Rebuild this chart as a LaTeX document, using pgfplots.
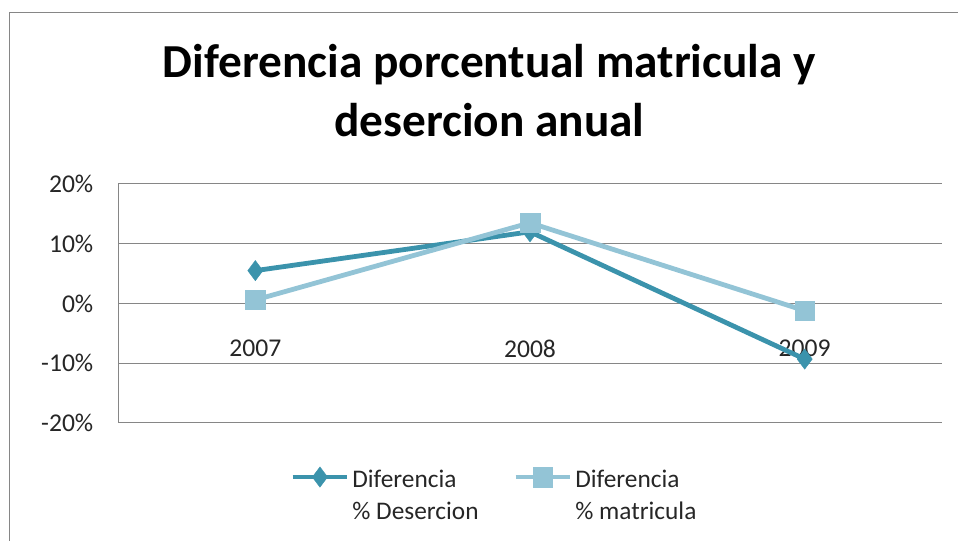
\documentclass[border=0pt]{standalone}
\usepackage{pgfplots}
\pgfplotsset{compat=1.18}
\usepackage{fontspec}
\setmainfont{Carlito}
\definecolor{desc}{HTML}{3B93AC}
\definecolor{matr}{HTML}{93C4D6}
\definecolor{gridc}{HTML}{868686}
\begin{document}
\begin{tikzpicture}
\useasboundingbox (0pt,0pt) rectangle (718.5pt,405.75pt);
\draw[gridc, line width=1.1pt] (7.1pt,-2pt) -- (7.1pt,396.4pt) -- (720pt,396.4pt);
\node[anchor=base, font=\bfseries\fontsize{35.5}{40}\selectfont, inner sep=0] at (367pt,347.25pt) {Diferencia porcentual matricula y};
\node[anchor=base, font=\bfseries\fontsize{35.5}{40}\selectfont, inner sep=0] at (367pt,303pt) {desercion anual};
\begin{axis}[
  at={(88.5pt,88.5pt)}, anchor=south west,
  scale only axis, width=618pt, height=179.25pt,
  xmin=-0.5, xmax=2.5, ymin=-20, ymax=20,
  xtick={0,1,2}, xticklabels={2007,2008,2009},
  ytick={-20,-10,0,10,20},
  yticklabels={-20\%,-10\%,0\%,10\%,20\%},
  ymajorgrids, grid style={gridc, line width=0.75pt},
  axis lines*=left,
  axis line style={gridc, line width=0.75pt, -},
  major tick length=0pt,
  tick label style={font=\fontsize{19.2}{22}\selectfont, text=black!85},
  yticklabel style={xshift=-15pt},
  xticklabel style={yshift=65.5pt},
  clip=false,
  legend columns=2,
  legend cell align=left,
  legend style={at={(axis description cs:0.2087,-0.163)}, anchor=north west, draw=none, fill=none,
    font=\fontsize{19}{24}\selectfont, text=black!85, inner sep=0pt,
    /tikz/every even column/.append style={column sep=24pt}},
  legend image code/.code={\draw[#1, mark repeat=2, mark phase=2] plot coordinates {(0pt,0pt) (20.5pt,0pt) (41pt,0pt)};},
]
\addplot[desc, line width=3.6pt, mark=diamond*, mark size=7.6pt, mark options={solid, fill=desc, draw=desc, line width=0.3pt}]
  coordinates {(0,5.5) (1,12) (2,-9.3)};
\addlegendentry{\begin{tabular}[t]{@{}l@{}}Diferencia\\\% Desercion\end{tabular}}
\addplot[matr, line width=3.6pt, mark=square*, mark size=7.3pt, mark options={solid, fill=matr, draw=matr, line width=0.3pt}]
  coordinates {(0,0.6) (1,13.5) (2,-1.2)};
\addlegendentry{\begin{tabular}[t]{@{}l@{}}Diferencia\\\% matricula\end{tabular}}
\end{axis}
\end{tikzpicture}
\end{document}
